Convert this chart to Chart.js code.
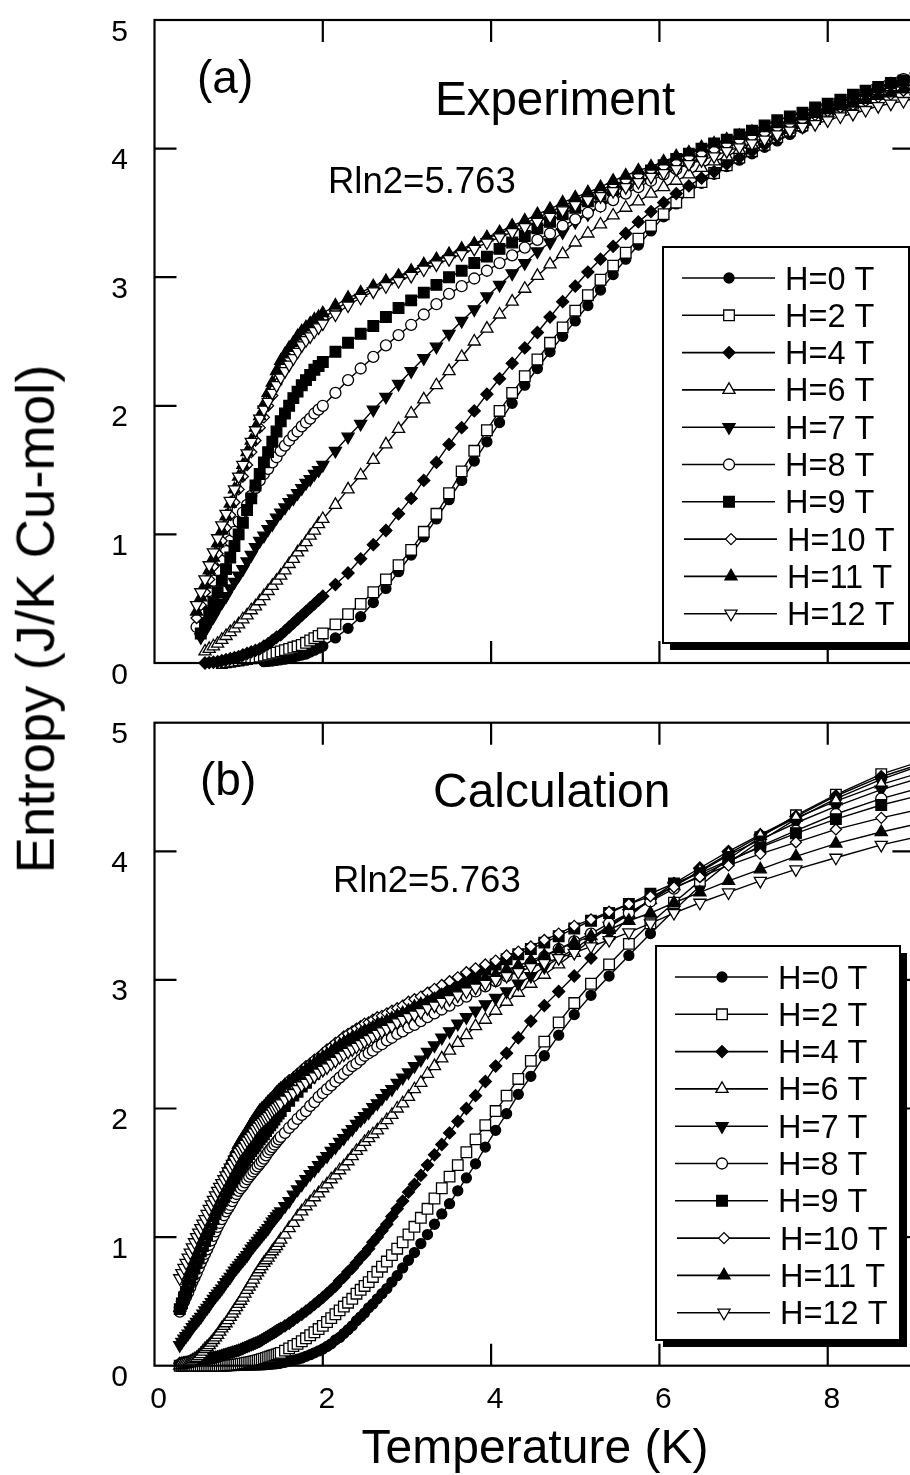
<!DOCTYPE html>
<html>
<head>
<meta charset="utf-8">
<script src="https://cdn.jsdelivr.net/npm/chart.js@4.4.1/dist/chart.umd.min.js"></script>
<style>
html,body{margin:0;padding:0;background:#fff;overflow:hidden;}
#wrap{position:relative;width:910px;height:1475px;overflow:hidden;background:#fff;}
#c1{position:absolute;left:0;top:0;}
#c2{position:absolute;left:0;top:700px;}
#ytitle{position:absolute;left:36px;top:619px;transform:translate(-50%,-50%) rotate(-90deg);
  font-family:"Liberation Sans",Arial,Helvetica,sans-serif;font-size:54.5px;line-height:54.5px;white-space:nowrap;color:#000;}
</style>
</head>
<body>
<div id="wrap">
<canvas id="c1" width="930" height="700"></canvas>
<canvas id="c2" width="930" height="775"></canvas>
<div id="ytitle">Entropy (J/K Cu-mol)</div>
</div>
<script>
// ---------------- DATA ----------------
const fieldLabels = ["H=0 T","H=2 T","H=4 T","H=6 T","H=7 T","H=8 T","H=9 T","H=10 T","H=11 T","H=12 T"];
const xTickValues = [0,2,4,6,8];
const yTickValues = [0,1,2,3,4,5];

// (a) Experiment: temperatures (K)
const expT = [0.50,0.55,0.60,0.65,0.70,0.75,0.80,0.85,0.90,0.95,1.00,1.05,1.10,1.15,1.20,1.25,1.30,1.35,1.40,1.45,1.50,1.55,1.60,1.65,1.70,1.75,1.80,1.85,1.90,1.95,2.00,
  2.15,2.30,2.45,2.60,2.75,2.90,3.05,3.20,3.35,3.50,3.65,3.80,3.95,4.10,4.25,4.40,4.55,4.70,4.85,5.00,5.15,5.30,5.45,5.60,5.75,5.90,6.05,6.20,6.35,6.50,6.65,6.80,6.95,7.10,7.25,7.40,7.55,7.70,7.85,8.00,8.15,8.30,8.45,8.60,8.75,8.90,9.05];

const expH0 = [null,null,null,null,null,null,null,null,null,null,null,null,null,null,null,null,
  0.01,0.012,0.015,0.02,0.025,0.03,0.04,0.045,0.055,0.062,0.07,0.085,0.10,0.115,0.13,
  0.195,0.27,0.36,0.47,0.58,0.71,0.84,0.98,1.12,1.27,1.42,1.57,1.72,1.87,2.02,2.16,2.29,2.42,2.54,2.66,2.78,2.90,3.02,3.14,3.25,3.36,3.47,3.57,3.66,3.73,3.80,3.86,3.91,3.96,4.01,4.06,4.11,4.16,4.21,4.25,4.29,4.33,4.38,4.42,4.46,4.50,4.55];
const expH2 = [null,null,null,null,null,null,
  0.0,0.005,0.01,0.015,0.02,0.025,0.03,0.037,0.043,0.05,0.057,0.065,0.073,0.081,0.09,0.10,0.11,0.12,0.13,0.14,0.157,0.175,0.193,0.21,0.23,
  0.30,0.38,0.46,0.55,0.65,0.76,0.88,1.02,1.16,1.32,1.49,1.65,1.81,1.96,2.10,2.23,2.36,2.49,2.61,2.74,2.86,2.98,3.09,3.19,3.30,3.40,3.49,3.58,3.66,3.74,3.81,3.87,3.93,3.98,4.03,4.09,4.14,4.18,4.23,4.27,4.31,4.35,4.40,4.44,4.48,4.52,4.56];
const expH4 = [null,null,
  0.0,0.003,0.006,0.01,0.018,0.026,0.034,0.042,0.05,0.062,0.074,0.086,0.098,0.11,0.13,0.15,0.175,0.20,0.22,0.25,0.28,0.31,0.34,0.37,0.40,0.43,0.46,0.49,0.52,
  0.61,0.70,0.81,0.92,1.03,1.16,1.28,1.42,1.56,1.70,1.83,1.96,2.09,2.21,2.33,2.45,2.57,2.69,2.81,2.93,3.04,3.14,3.24,3.34,3.43,3.51,3.58,3.65,3.71,3.77,3.82,3.88,3.93,3.98,4.03,4.09,4.14,4.18,4.23,4.28,4.32,4.36,4.41,4.45,4.48,4.52,4.56];
const expH6 = [null,null,
  0.09,0.11,0.13,0.15,0.18,0.21,0.24,0.27,0.30,0.34,0.37,0.41,0.44,0.48,0.52,0.56,0.60,0.64,0.68,0.72,0.77,0.81,0.86,0.90,0.94,0.99,1.03,1.08,1.12,
  1.23,1.35,1.46,1.58,1.70,1.82,1.94,2.05,2.16,2.27,2.38,2.50,2.60,2.71,2.81,2.91,3.01,3.10,3.18,3.27,3.34,3.41,3.48,3.54,3.59,3.65,3.70,3.75,3.80,3.85,3.90,3.94,3.99,4.03,4.07,4.11,4.15,4.19,4.24,4.28,4.32,4.36,4.41,4.45,4.48,4.52,4.55];
const expH7 = [null,
  0.20,0.25,0.31,0.36,0.42,0.47,0.52,0.58,0.63,0.68,0.73,0.79,0.84,0.90,0.95,0.99,1.04,1.08,1.13,1.17,1.21,1.25,1.28,1.32,1.36,1.40,1.43,1.47,1.50,1.54,
  1.65,1.76,1.86,1.97,2.07,2.17,2.27,2.37,2.46,2.56,2.66,2.75,2.85,2.94,3.03,3.11,3.20,3.27,3.35,3.43,3.49,3.56,3.62,3.68,3.73,3.78,3.83,3.88,3.92,3.96,4.00,4.03,4.07,4.10,4.14,4.18,4.21,4.25,4.28,4.32,4.36,4.39,4.43,4.47,4.50,4.53,4.56];
const expH8 = [0.28,0.38,0.48,0.56,0.64,0.72,0.80,0.87,0.95,1.02,1.10,1.17,1.23,1.30,1.36,1.42,1.47,1.51,1.56,1.60,1.65,1.69,1.73,1.77,1.80,1.84,1.87,1.90,1.94,1.97,2.00,
  2.10,2.20,2.29,2.38,2.47,2.55,2.63,2.71,2.79,2.87,2.93,2.99,3.05,3.11,3.17,3.23,3.29,3.34,3.40,3.45,3.50,3.55,3.60,3.65,3.70,3.75,3.80,3.84,3.89,3.93,3.97,4.01,4.05,4.09,4.13,4.16,4.20,4.24,4.28,4.32,4.36,4.40,4.44,4.47,4.51,4.54,4.58];
const expH9 = [null,
  0.23,0.31,0.39,0.47,0.55,0.64,0.73,0.82,0.91,1.00,1.09,1.19,1.28,1.38,1.47,1.56,1.64,1.72,1.80,1.88,1.94,2.00,2.06,2.11,2.16,2.20,2.24,2.28,2.31,2.34,
  2.42,2.49,2.56,2.62,2.69,2.76,2.82,2.88,2.94,3.00,3.05,3.11,3.16,3.22,3.27,3.32,3.38,3.43,3.49,3.54,3.59,3.64,3.68,3.73,3.78,3.83,3.87,3.92,3.96,4.00,4.04,4.07,4.11,4.14,4.18,4.22,4.25,4.28,4.32,4.35,4.38,4.42,4.45,4.48,4.51,4.53,4.56];
const expH10 = [0.35,0.45,0.55,0.65,0.75,0.85,0.95,1.05,1.15,1.25,1.35,1.45,1.54,1.64,1.73,1.83,1.91,2.00,2.08,2.17,2.25,2.31,2.37,2.42,2.47,2.52,2.55,2.59,2.62,2.65,2.68,
  2.75,2.81,2.86,2.91,2.96,3.00,3.04,3.09,3.13,3.17,3.21,3.25,3.30,3.34,3.38,3.42,3.46,3.51,3.55,3.60,3.64,3.68,3.72,3.75,3.79,3.83,3.86,3.89,3.93,3.96,3.99,4.03,4.06,4.09,4.12,4.16,4.19,4.22,4.26,4.29,4.32,4.34,4.37,4.40,4.42,4.45,4.47];
const expH11 = [0.40,0.51,0.61,0.72,0.82,0.93,1.03,1.14,1.24,1.35,1.45,1.54,1.64,1.73,1.83,1.92,2.01,2.10,2.18,2.27,2.35,2.40,2.45,2.49,2.54,2.58,2.61,2.64,2.67,2.69,2.72,
  2.78,2.84,2.88,2.93,2.97,3.01,3.05,3.10,3.14,3.18,3.22,3.26,3.31,3.35,3.40,3.44,3.49,3.53,3.58,3.62,3.66,3.70,3.75,3.79,3.83,3.86,3.90,3.94,3.97,4.01,4.04,4.07,4.10,4.13,4.16,4.19,4.22,4.25,4.27,4.30,4.33,4.35,4.38,4.41,4.43,4.46,4.48];
const expH12 = [0.45,0.55,0.65,0.76,0.86,0.97,1.07,1.16,1.26,1.35,1.45,1.54,1.63,1.72,1.81,1.90,1.97,2.03,2.10,2.16,2.22,2.27,2.32,2.37,2.42,2.47,2.51,2.54,2.58,2.61,2.64,
  2.71,2.78,2.84,2.89,2.93,2.97,3.01,3.06,3.10,3.14,3.18,3.22,3.27,3.31,3.35,3.39,3.43,3.47,3.52,3.56,3.60,3.63,3.67,3.70,3.74,3.78,3.81,3.84,3.88,3.91,3.94,3.98,4.01,4.04,4.07,4.11,4.14,4.17,4.19,4.22,4.25,4.27,4.30,4.33,4.35,4.37,4.39];

// (b) Calculation: temperatures (K)
const calcT = [0.300,0.325,0.350,0.375,0.400,0.425,0.450,0.475,0.500,0.525,0.550,0.575,0.600,0.625,0.650,0.675,0.700,0.725,0.750,0.775,0.800,0.825,0.850,0.875,0.900,0.925,0.950,0.975,
  1.000,1.025,1.050,1.075,1.100,1.125,1.150,1.175,1.200,1.225,1.250,1.275,1.300,1.325,1.350,1.375,1.400,1.425,1.450,1.475,1.500,
  1.55,1.60,1.65,1.70,1.75,1.80,1.85,1.90,1.95,2.00,2.05,2.10,2.15,2.20,2.25,2.30,2.35,2.40,2.45,
  2.496,2.545,2.595,2.648,2.703,2.761,2.821,2.884,2.949,3.018,3.089,3.165,3.244,3.327,3.414,3.506,3.604,3.706,3.815,3.931,4.054,4.184,4.323,4.472,4.632,4.803,4.988,5.187,5.402,5.637,5.893,6.173,6.481,6.821,7.199,7.622,8.097,8.636,9.25];

const calcH0 = [0,0,0,0,0,0,0,0,0,0,0,0,0,0,0,0,0,0,0,0,0,0,0,0,0,0.001,0.001,0.001,0.001,0.002,0.002,0.002,0.003,0.003,0.003,0.004,0.004,0.005,0.005,0.006,0.007,0.008,0.01,0.011,0.013,0.014,0.016,0.018,0.02,
  0.027,0.035,0.043,0.051,0.06,0.073,0.086,0.10,0.115,0.13,0.15,0.17,0.20,0.22,0.25,0.28,0.31,0.35,0.38,
  0.41,0.45,0.48,0.52,0.56,0.60,0.65,0.70,0.76,0.82,0.88,0.95,1.02,1.10,1.18,1.26,1.36,1.46,1.57,1.70,1.83,1.96,2.11,2.25,2.41,2.57,2.73,2.88,3.03,3.19,3.36,3.54,3.73,3.91,4.08,4.25,4.41,4.56,4.70];
const calcH2 = [0,0,0,0,0,0,0,0,0,0,0,0,0,0,0,0,0,0,0,0,0,0.001,0.002,0.003,0.004,0.005,0.007,0.008,0.01,0.013,0.016,0.019,0.023,0.026,0.03,0.033,0.037,0.041,0.045,0.05,0.055,0.06,0.066,0.071,0.077,0.082,0.088,0.094,0.10,
  0.117,0.135,0.153,0.17,0.19,0.213,0.237,0.26,0.285,0.31,0.34,0.37,0.40,0.43,0.46,0.49,0.52,0.56,0.59,
  0.62,0.65,0.69,0.73,0.77,0.81,0.86,0.91,0.96,1.02,1.08,1.15,1.22,1.30,1.38,1.47,1.56,1.66,1.76,1.87,1.98,2.10,2.23,2.37,2.52,2.67,2.82,2.97,3.12,3.28,3.44,3.60,3.77,3.94,4.11,4.28,4.44,4.60,4.73];
const calcH4 = [0.020,0.022,0.025,0.027,0.030,0.032,0.035,0.037,0.040,0.043,0.046,0.049,0.052,0.055,0.058,0.061,0.064,0.067,0.070,0.075,0.080,0.085,0.090,0.095,0.100,0.105,0.110,0.115,0.120,0.127,0.134,0.141,0.148,0.155,0.162,0.169,0.176,0.183,0.190,0.200,0.210,0.220,0.230,0.240,0.250,0.260,0.270,0.280,0.290,
  0.31,0.33,0.355,0.378,0.40,0.425,0.45,0.477,0.503,0.53,0.56,0.59,0.62,0.66,0.69,0.73,0.76,0.80,0.84,
  0.87,0.91,0.96,1.00,1.05,1.10,1.16,1.22,1.28,1.35,1.41,1.48,1.56,1.64,1.72,1.81,1.90,2.00,2.10,2.21,2.33,2.43,2.55,2.68,2.80,2.91,3.03,3.17,3.32,3.49,3.63,3.75,3.87,4.00,4.13,4.27,4.43,4.58,4.71];
const calcH6 = [0.0,0.005,0.01,0.015,0.02,0.03,0.04,0.05,0.06,0.075,0.09,0.11,0.13,0.145,0.16,0.18,0.20,0.22,0.24,0.265,0.29,0.31,0.33,0.355,0.38,0.405,0.43,0.455,0.48,0.505,0.53,0.56,0.59,0.615,0.64,0.67,0.70,0.725,0.75,0.775,0.80,0.82,0.84,0.865,0.89,0.91,0.93,0.955,0.98,
  1.02,1.07,1.11,1.16,1.20,1.24,1.27,1.31,1.34,1.38,1.41,1.45,1.48,1.52,1.55,1.59,1.63,1.67,1.70,
  1.74,1.77,1.80,1.83,1.87,1.91,1.95,2.00,2.04,2.09,2.15,2.20,2.27,2.33,2.39,2.45,2.51,2.57,2.64,2.69,2.76,2.83,2.90,2.97,3.04,3.12,3.21,3.31,3.41,3.51,3.62,3.73,3.85,3.98,4.12,4.26,4.39,4.52,4.64];
const calcH7 = [0.16,0.185,0.21,0.23,0.25,0.275,0.30,0.32,0.34,0.36,0.38,0.405,0.43,0.45,0.47,0.495,0.52,0.54,0.56,0.58,0.60,0.625,0.65,0.67,0.69,0.715,0.74,0.76,0.78,0.80,0.82,0.84,0.86,0.885,0.91,0.93,0.95,0.97,0.99,1.01,1.03,1.05,1.07,1.095,1.12,1.14,1.16,1.18,1.20,
  1.24,1.28,1.33,1.37,1.41,1.45,1.49,1.52,1.56,1.60,1.63,1.67,1.70,1.74,1.77,1.81,1.84,1.88,1.91,
  1.94,1.97,2.01,2.04,2.08,2.12,2.15,2.20,2.24,2.28,2.33,2.38,2.44,2.49,2.55,2.60,2.66,2.71,2.76,2.81,2.86,2.91,2.97,3.03,3.10,3.17,3.24,3.33,3.42,3.52,3.62,3.73,3.84,3.97,4.09,4.22,4.35,4.48,4.60];
const calcH8 = [0.42,0.46,0.50,0.535,0.57,0.61,0.65,0.685,0.72,0.76,0.80,0.835,0.87,0.905,0.94,0.975,1.01,1.045,1.08,1.11,1.14,1.17,1.20,1.225,1.25,1.28,1.31,1.335,1.36,1.38,1.40,1.425,1.45,1.47,1.49,1.51,1.53,1.55,1.57,1.59,1.61,1.635,1.66,1.68,1.70,1.72,1.74,1.76,1.78,
  1.81,1.85,1.88,1.92,1.95,1.98,2.02,2.05,2.09,2.12,2.15,2.18,2.21,2.24,2.27,2.30,2.33,2.35,2.38,
  2.41,2.43,2.45,2.48,2.50,2.53,2.55,2.58,2.60,2.63,2.65,2.68,2.71,2.74,2.77,2.80,2.84,2.87,2.91,2.95,2.99,3.03,3.08,3.13,3.18,3.24,3.30,3.36,3.44,3.52,3.61,3.71,3.81,3.92,4.04,4.16,4.29,4.41,4.52];
const calcH9 = [0.44,0.485,0.53,0.575,0.62,0.665,0.71,0.755,0.80,0.845,0.89,0.93,0.97,1.015,1.06,1.10,1.14,1.18,1.22,1.25,1.28,1.31,1.34,1.37,1.40,1.43,1.46,1.49,1.52,1.545,1.57,1.595,1.62,1.645,1.67,1.69,1.71,1.735,1.76,1.78,1.80,1.825,1.85,1.87,1.89,1.915,1.94,1.96,1.98,
  2.02,2.06,2.10,2.13,2.17,2.20,2.24,2.27,2.30,2.33,2.36,2.39,2.41,2.44,2.47,2.49,2.52,2.54,2.57,
  2.59,2.61,2.63,2.65,2.67,2.69,2.72,2.74,2.77,2.80,2.82,2.84,2.87,2.90,2.92,2.95,2.98,3.02,3.05,3.08,3.12,3.16,3.20,3.24,3.29,3.34,3.40,3.46,3.52,3.59,3.67,3.75,3.83,3.93,4.03,4.14,4.25,4.36,4.46];
const calcH10 = [0.45,0.50,0.55,0.60,0.65,0.70,0.75,0.80,0.85,0.895,0.94,0.99,1.04,1.085,1.13,1.18,1.23,1.275,1.32,1.36,1.40,1.44,1.48,1.515,1.55,1.59,1.63,1.665,1.70,1.725,1.75,1.78,1.81,1.835,1.86,1.89,1.92,1.945,1.97,1.99,2.01,2.03,2.05,2.065,2.08,2.10,2.12,2.14,2.16,
  2.19,2.22,2.24,2.27,2.30,2.33,2.35,2.38,2.40,2.43,2.46,2.48,2.51,2.53,2.56,2.58,2.60,2.62,2.64,
  2.66,2.67,2.69,2.71,2.72,2.74,2.76,2.78,2.80,2.83,2.85,2.87,2.90,2.93,2.96,2.99,3.02,3.06,3.09,3.12,3.15,3.19,3.22,3.26,3.31,3.36,3.42,3.47,3.53,3.59,3.65,3.72,3.80,3.89,3.98,4.07,4.17,4.26,4.35];
const calcH11 = [0.45,0.50,0.55,0.605,0.66,0.71,0.76,0.81,0.86,0.91,0.96,1.005,1.05,1.10,1.15,1.195,1.24,1.29,1.34,1.38,1.42,1.455,1.49,1.53,1.57,1.605,1.64,1.68,1.72,1.745,1.77,1.795,1.82,1.85,1.88,1.905,1.93,1.955,1.98,1.995,2.01,2.03,2.05,2.065,2.08,2.10,2.12,2.135,2.15,
  2.18,2.20,2.23,2.25,2.28,2.30,2.33,2.35,2.38,2.40,2.42,2.44,2.47,2.49,2.51,2.53,2.55,2.56,2.58,
  2.60,2.61,2.63,2.65,2.66,2.68,2.70,2.72,2.74,2.76,2.79,2.81,2.83,2.85,2.88,2.90,2.93,2.96,2.99,3.01,3.04,3.08,3.11,3.15,3.19,3.24,3.29,3.34,3.39,3.46,3.52,3.60,3.68,3.77,3.86,3.96,4.06,4.15,4.24];
const calcH12 = [0.68,0.72,0.76,0.80,0.84,0.88,0.92,0.96,1.00,1.035,1.07,1.105,1.14,1.18,1.22,1.255,1.29,1.325,1.36,1.39,1.42,1.45,1.48,1.51,1.54,1.57,1.60,1.63,1.66,1.68,1.70,1.725,1.75,1.77,1.79,1.815,1.84,1.86,1.88,1.895,1.91,1.925,1.94,1.96,1.98,1.995,2.01,2.025,2.04,
  2.07,2.10,2.12,2.15,2.18,2.20,2.23,2.25,2.28,2.30,2.32,2.35,2.37,2.40,2.42,2.44,2.46,2.48,2.50,
  2.52,2.54,2.56,2.58,2.60,2.62,2.64,2.67,2.69,2.71,2.73,2.75,2.78,2.80,2.83,2.85,2.88,2.91,2.94,2.97,3.00,3.03,3.06,3.10,3.13,3.17,3.21,3.26,3.31,3.37,3.44,3.52,3.60,3.68,3.77,3.86,3.95,4.05,4.14];

const expSeries = [expH0,expH2,expH4,expH6,expH7,expH8,expH9,expH10,expH11,expH12];
const calcSeries = [calcH0,calcH2,calcH4,calcH6,calcH7,calcH8,calcH9,calcH10,calcH11,calcH12];

// ---------------- STYLE ----------------
const FONT = '"Liberation Sans", Arial, Helvetica, sans-serif';
const markerStyles = [
  {ps:'circle',   r:5,   fill:'#000', rot:0},
  {ps:'rect',     r:7.5, fill:'#fff', rot:0},
  {ps:'rectRot',  r:6,   fill:'#000', rot:0},
  {ps:'triangle', r:7,   fill:'#fff', rot:0},
  {ps:'triangle', r:7,   fill:'#000', rot:180},
  {ps:'circle',   r:5.5, fill:'#fff', rot:0},
  {ps:'rect',     r:7.5, fill:'#000', rot:0},
  {ps:'rectRot',  r:5.5, fill:'#fff', rot:0},
  {ps:'triangle', r:7,   fill:'#000', rot:0},
  {ps:'triangle', r:7,   fill:'#fff', rot:180}
];

function drawMarker(ctx, st, x, y){
  ctx.save();
  ctx.fillStyle = st.fill; ctx.strokeStyle = '#000'; ctx.lineWidth = 1.3;
  if (Chart.helpers && Chart.helpers.drawPoint){
    Chart.helpers.drawPoint(ctx, {pointStyle: st.ps, radius: st.r, rotation: st.rot, borderWidth: 1.3}, x, y);
  } else {
    ctx.beginPath(); ctx.arc(x,y,st.r,0,Math.PI*2); ctx.fill(); ctx.stroke();
  }
  ctx.restore();
}

function buildDatasets(xs, seriesList){
  return seriesList.map((ys, i) => {
    const st = markerStyles[i];
    const pts = [];
    xs.forEach((x, j) => { if (ys[j] !== null && ys[j] !== undefined) pts.push({x: x, y: ys[j]}); });
    return {
      label: fieldLabels[i], data: pts, showLine: true,
      borderColor: '#000', borderWidth: 1.4, tension: 0,
      pointStyle: st.ps, pointRadius: st.r, pointRotation: st.rot,
      pointBackgroundColor: st.fill, pointBorderColor: '#000', pointBorderWidth: 1.3,
      pointHoverRadius: st.r, clip: false, order: 20 - i
    };
  });
}

function framePlugin(showXLabels){
  return {
    id: 'frame',
    afterDatasetsDraw(chart){
      const ctx = chart.ctx, a = chart.chartArea, xs = chart.scales.x, ys = chart.scales.y;
      ctx.save();
      ctx.strokeStyle = '#000'; ctx.lineWidth = 2.2;
      ctx.strokeRect(a.left, a.top, a.right - a.left, a.bottom - a.top);
      ctx.beginPath();
      xTickValues.forEach(v => { if (v <= 0) return; const px = xs.getPixelForValue(v);
        ctx.moveTo(px, a.bottom); ctx.lineTo(px, a.bottom - 22);
        ctx.moveTo(px, a.top); ctx.lineTo(px, a.top + 22); });
      yTickValues.forEach(v => { if (v <= 0 || v >= 5) return; const py = ys.getPixelForValue(v);
        ctx.moveTo(a.left, py); ctx.lineTo(a.left + 22, py);
        ctx.moveTo(a.right, py); ctx.lineTo(a.right - 22, py); });
      ctx.stroke();
      // tick labels, placed from the scales
      ctx.fillStyle = '#000'; ctx.font = '30px ' + FONT; ctx.textBaseline = 'alphabetic';
      ctx.textAlign = 'right';
      yTickValues.forEach(v => { const py = ys.getPixelForValue(v); ctx.fillText(String(v), 128, py + 20.5); });
      if (showXLabels){
        ctx.textAlign = 'center';
        xTickValues.forEach(v => { const px = xs.getPixelForValue(v); ctx.fillText(String(v), px + 4, a.bottom + 42.5); });
      }
      ctx.restore();
    }
  };
}

function legendPlugin(box){
  return {
    id: 'boxlegend',
    afterDraw(chart){
      const ctx = chart.ctx;
      ctx.save();
      ctx.fillStyle = '#000';
      ctx.fillRect(box.x + 7, box.y + 7, box.w, box.h);
      ctx.fillStyle = '#fff';
      ctx.fillRect(box.x, box.y, box.w, box.h);
      ctx.strokeStyle = '#000'; ctx.lineWidth = 2;
      ctx.strokeRect(box.x, box.y, box.w, box.h);
      ctx.font = '32.5px ' + FONT; ctx.textBaseline = 'alphabetic'; ctx.textAlign = 'left';
      fieldLabels.forEach((lab, i) => {
        const yy = box.y + 31 + i * 37.3;
        const dx = i >= 7 ? 2 : 0;
        ctx.beginPath(); ctx.lineWidth = 1.6; ctx.strokeStyle = '#000';
        ctx.moveTo(box.x + 19 + dx, yy); ctx.lineTo(box.x + 112 + dx, yy); ctx.stroke();
        drawMarker(ctx, markerStyles[i], box.x + 66 + dx, yy);
        ctx.fillStyle = '#000';
        ctx.fillText(lab, box.x + 122 + dx, yy + 11.5);
      });
      ctx.restore();
    }
  };
}

function textPlugin(items){
  return {
    id: 'texts',
    afterDraw(chart){
      const ctx = chart.ctx;
      ctx.save(); ctx.fillStyle = '#000'; ctx.textBaseline = 'alphabetic';
      items.forEach(t => { ctx.font = t.size + 'px ' + FONT; ctx.textAlign = t.align || 'left'; ctx.fillText(t.text, t.x, t.y); });
      ctx.restore();
    }
  };
}

function makeChart(id, xs, seriesList, cfg){
  return new Chart(document.getElementById(id), {
    type: 'scatter',
    data: { datasets: buildDatasets(xs, seriesList) },
    options: {
      responsive: false, animation: false, events: [],
      layout: { padding: { top: cfg.padTop, right: 15.6, left: 0, bottom: 0 } },
      plugins: { legend: { display: false }, tooltip: { enabled: false } },
      scales: {
        x: { type: 'linear', min: 0, max: 9.03, position: 'bottom',
             grid: { display: false }, border: { display: false },
             afterBuildTicks: s => { s.ticks = xTickValues.map(v => ({value: v})); },
             ticks: { display: false },
             afterFit: s => { s.height = cfg.xH; s.paddingLeft = 0; s.paddingRight = 0; } },
        y: { type: 'linear', min: 0, max: 5,
             grid: { display: false }, border: { display: false },
             afterBuildTicks: s => { s.ticks = yTickValues.map(v => ({value: v})); },
             ticks: { display: false },
             afterFit: s => { s.width = 154.5; s.paddingTop = 0; s.paddingBottom = 0; } }
      }
    },
    plugins: [framePlugin(cfg.showX), legendPlugin(cfg.legend), textPlugin(cfg.texts)]
  });
}

makeChart('c1', expT, expSeries, {
  padTop: 20, xH: 37, showX: false,
  legend: { x: 663, y: 247, w: 246, h: 396 },
  texts: [
    { text: '(a)', x: 197, y: 93, size: 46 },
    { text: 'Experiment', x: 435, y: 115, size: 47.5 },
    { text: 'Rln2=5.763', x: 328, y: 193, size: 36.5 }
  ]
});

makeChart('c2', calcT, calcSeries, {
  padTop: 22.7, xH: 109.3, showX: true,
  legend: { x: 656, y: 246, w: 244, h: 394 },
  texts: [
    { text: '(b)', x: 200, y: 95, size: 46 },
    { text: 'Calculation', x: 433, y: 107, size: 48 },
    { text: 'Rln2=5.763', x: 333, y: 192, size: 36.5 },
    { text: 'Temperature (K)', x: 535, y: 763, size: 48, align: 'center' }
  ]
});
</script>
</body>
</html>
